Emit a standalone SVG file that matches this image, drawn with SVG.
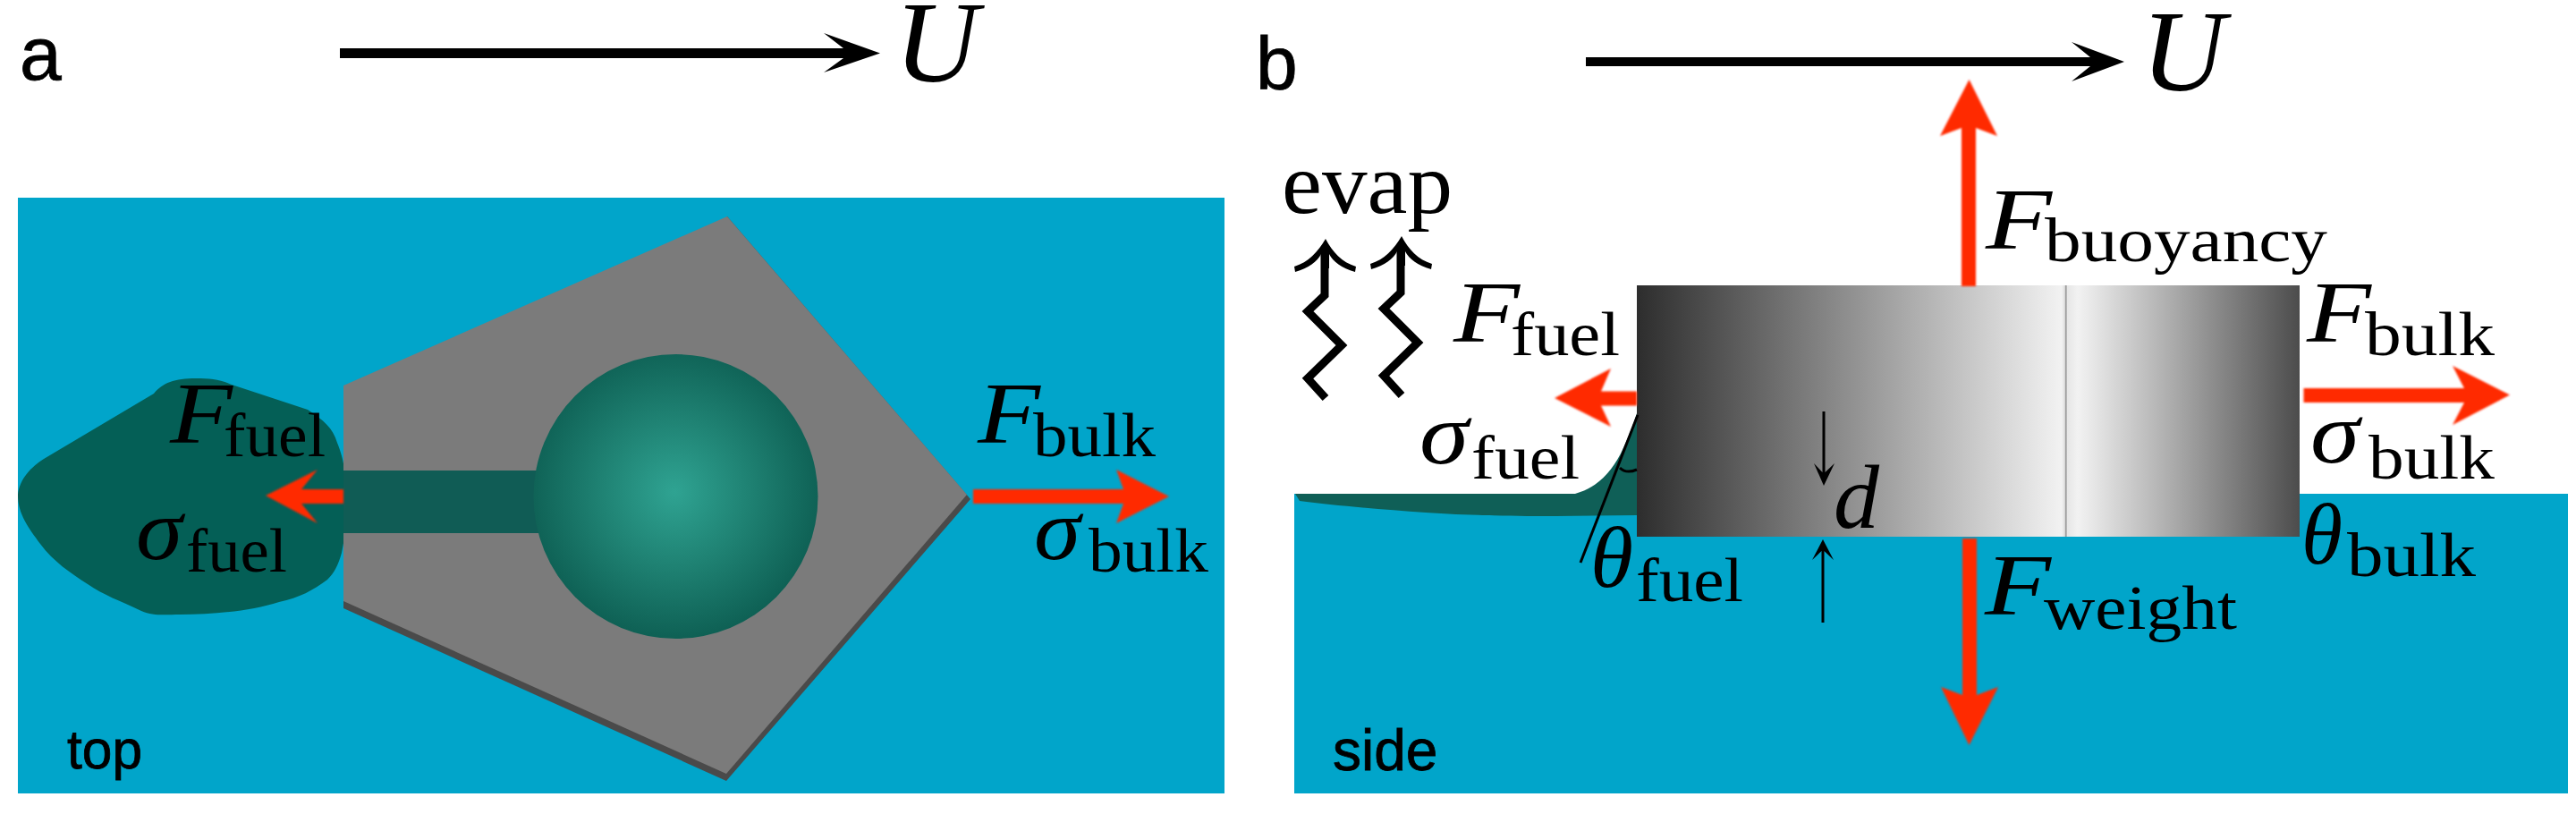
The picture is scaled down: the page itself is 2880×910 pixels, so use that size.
<svg xmlns="http://www.w3.org/2000/svg" width="2880" height="910" viewBox="0 0 2880 910">
<style>
.water{fill:#01a5ca}
.fuel{fill:#045f56}
.red{fill:#ff2a00;filter:url(#soft)}
.blk{fill:#000}
.wig{fill:none;stroke:#000;stroke-width:9;stroke-linejoin:miter}
.thin{fill:none;stroke:#000;stroke-width:3}
text{fill:#000;font-family:"Liberation Serif","Times New Roman",serif}
.it{font-style:italic}
.sans{font-family:"Liberation Sans",Arial,sans-serif;stroke:#000;stroke-width:0.8}
.sub{font-size:70px}
.sup{font-size:98px}
</style>
<defs>
<radialGradient id="sphere" gradientUnits="userSpaceOnUse" cx="754" cy="550" r="165">
<stop offset="0" stop-color="#2fa392"/><stop offset="0.5" stop-color="#1f8273"/><stop offset="1" stop-color="#0e6054"/>
</radialGradient>
<linearGradient id="cyl" gradientUnits="userSpaceOnUse" x1="1830" y1="0" x2="2571" y2="0">
<stop offset="0" stop-color="#2d2d2d"/>
<stop offset="0.641" stop-color="#f2f2f2"/>
<stop offset="0.6455" stop-color="#e0e0e0"/>
<stop offset="0.6475" stop-color="#8c8c8c"/>
<stop offset="0.6495" stop-color="#e6e6e6"/>
<stop offset="0.665" stop-color="#f2f2f2"/>
<stop offset="1" stop-color="#4c4c4c"/>
</linearGradient>
<filter id="soft" x="-10%" y="-10%" width="120%" height="120%"><feGaussianBlur stdDeviation="0.8"/></filter>
<path id="wiggle" d="M1481 282V330L1462 348L1500 386L1462 423L1482 445"/>
<path id="barb" d="M1482 267C1490 282 1500 293 1516 298L1515 304C1500 300 1490 292 1486 284V300H1477V284C1473 292 1463 300 1448 304L1447 298C1463 293 1473 282 1482 267Z"/>
</defs>
<rect width="2880" height="910" fill="#fff"/>

<g id="panel-a">
<rect id="water-top" class="water" x="20" y="221" width="1349" height="666"/>
<path id="fuel-blob" class="fuel" d="M20 553C22 535 35 522 49 513L172 440C182 428 195 423 219 423C235 423 245 424 259 430L344 458C362 470 372 478 377 495C385 515 387 530 386 560C386 590 386 600 382 618C378 632 374 640 366 648C350 660 335 668 312 673C280 683 240 687 201 687C185 687 172 689 158 683C135 672 115 665 98 653C78 640 60 628 45 608C32 590 20 575 20 553Z"/>
<g id="plate">
<path fill="#4a4a4a" d="M384 672L813 242L1085 558L812 873L384 680Z"/>
<path fill="#7b7b7b" d="M384 431L813 242L1081 553L812 865L384 672Z"/>
</g>
<rect id="channel" fill="#105c55" x="384" y="526" width="220" height="70"/>
<circle id="sphere-top" cx="755.5" cy="555" r="159" fill="url(#sphere)"/>
<text class="sans" x="22" y="89" font-size="84">a</text>
<text class="sans" x="75" y="859" font-size="62" textLength="84" lengthAdjust="spacingAndGlyphs">top</text>
</g>

<g id="panel-b">
<rect id="water-side" class="water" x="1447" y="552" width="1424" height="335"/>
<path id="meniscus" fill="#0f5f57" d="M1448 552H1761C1785 545 1800 530 1812 507C1820 490 1826 475 1830 462V576L1739 577C1680 577 1640 576 1594 573C1540 569 1490 565 1453 560Z"/>
<rect id="cylinder" x="1830" y="319" width="741" height="281" fill="url(#cyl)"/>
<text class="sans" x="1490" y="861" font-size="64">side</text>
<text class="sans" x="1404" y="100" font-size="84">b</text>
<path class="thin" d="M1831 464L1767 629"/>
<path class="thin" d="M1811 523Q1818 530 1830 525"/>
<text x="1433" y="238" font-size="98" textLength="191" lengthAdjust="spacingAndGlyphs">evap</text>
</g>

<g id="connectors">
<path id="U-a" class="blk" d="M380 54H943L921 37L984 59.5L921 81L943 65H380Z"/>
<path id="U-b" class="blk" d="M1773 64H2337L2316 47L2375 69L2316 91L2337 74H1773Z"/>
<path id="a-fuel" class="red" d="M297 554L355 525L337 547H384V563H337L355 585Z"/>
<path id="a-bulk" class="red" d="M1088 547H1256L1248 525L1307 555L1248 585L1256 563H1088Z"/>
<path id="b-fuel" class="red" d="M1738 445L1801 412L1790 437.5H1830V453.5H1790L1801 477Z"/>
<path id="b-bulk" class="red" d="M2575.5 434H2755L2742 409L2806 441.5L2742 475L2755 450H2575.5Z"/>
<path id="b-buoyancy" class="red" d="M2193 320V143L2169 152L2201.5 89L2233 152L2209 143V320Z"/>
<path id="b-weight" class="red" d="M2194 602V777L2170 768L2201.5 833L2234 768L2210 777V602Z"/>
<g id="evap-1">
<use href="#wiggle" class="wig"/>
<use href="#barb" class="blk"/>
</g>
<g id="evap-2" transform="translate(85 -3)">
<use href="#wiggle" class="wig"/>
<use href="#barb" class="blk"/>
</g>
<path id="d-down" class="blk" d="M2037.5 460H2040.5V528L2051 518L2039 543L2028 518L2037.5 528Z"/>
<path id="d-up" class="blk" d="M2036.5 696H2039.5V616L2050 626L2038 603L2026 626L2036.5 616Z"/>
</g>

<g id="labels">
<text class="it" x="1000" y="91" font-size="130">U</text>
<text class="it" x="2394" y="101" font-size="130">U</text>

<g id="a-F-fuel"><text class="it sup" x="190" y="495" textLength="70" lengthAdjust="spacingAndGlyphs">F</text><text class="sub" x="250" y="510" textLength="114" lengthAdjust="spacingAndGlyphs">fuel</text></g>
<g id="a-s-fuel"><text class="it sup" x="152" y="625" textLength="52" lengthAdjust="spacingAndGlyphs">σ</text><text class="sub" x="208" y="639" textLength="113" lengthAdjust="spacingAndGlyphs">fuel</text></g>
<g id="a-F-bulk"><text class="it sup" x="1093" y="495" textLength="70" lengthAdjust="spacingAndGlyphs">F</text><text class="sub" x="1155" y="510" textLength="137" lengthAdjust="spacingAndGlyphs">bulk</text></g>
<g id="a-s-bulk"><text class="it sup" x="1156" y="625" textLength="52" lengthAdjust="spacingAndGlyphs">σ</text><text class="sub" x="1217" y="639" textLength="134" lengthAdjust="spacingAndGlyphs">bulk</text></g>

<g id="b-F-fuel"><text class="it sup" x="1625" y="382" textLength="74" lengthAdjust="spacingAndGlyphs">F</text><text class="sub" x="1689" y="397" textLength="122" lengthAdjust="spacingAndGlyphs">fuel</text></g>
<g id="b-s-fuel"><text class="it sup" x="1587" y="518" textLength="55" lengthAdjust="spacingAndGlyphs">σ</text><text class="sub" x="1645" y="535" textLength="121" lengthAdjust="spacingAndGlyphs">fuel</text></g>
<g id="b-t-fuel"><text class="it sup" x="1778" y="656" textLength="48" lengthAdjust="spacingAndGlyphs">θ</text><text class="sub" x="1829" y="672" textLength="120" lengthAdjust="spacingAndGlyphs">fuel</text></g>
<g id="b-F-buoyancy"><text class="it sup" x="2220" y="278" textLength="74" lengthAdjust="spacingAndGlyphs">F</text><text class="sub" x="2286" y="292" textLength="316" lengthAdjust="spacingAndGlyphs">buoyancy</text></g>
<g id="b-F-bulk"><text class="it sup" x="2579" y="382" textLength="72" lengthAdjust="spacingAndGlyphs">F</text><text class="sub" x="2644" y="397" textLength="145" lengthAdjust="spacingAndGlyphs">bulk</text></g>
<g id="b-s-bulk"><text class="it sup" x="2583" y="517" textLength="55" lengthAdjust="spacingAndGlyphs">σ</text><text class="sub" x="2648" y="535" textLength="141" lengthAdjust="spacingAndGlyphs">bulk</text></g>
<g id="b-t-bulk"><text class="it sup" x="2573" y="630" textLength="46" lengthAdjust="spacingAndGlyphs">θ</text><text class="sub" x="2624" y="644" textLength="144" lengthAdjust="spacingAndGlyphs">bulk</text></g>
<g id="b-F-weight"><text class="it sup" x="2219" y="687" textLength="74" lengthAdjust="spacingAndGlyphs">F</text><text class="sub" x="2285" y="703" textLength="216" lengthAdjust="spacingAndGlyphs">weight</text></g>
<text class="it" x="2050" y="590" font-size="102">d</text>
</g>
</svg>
